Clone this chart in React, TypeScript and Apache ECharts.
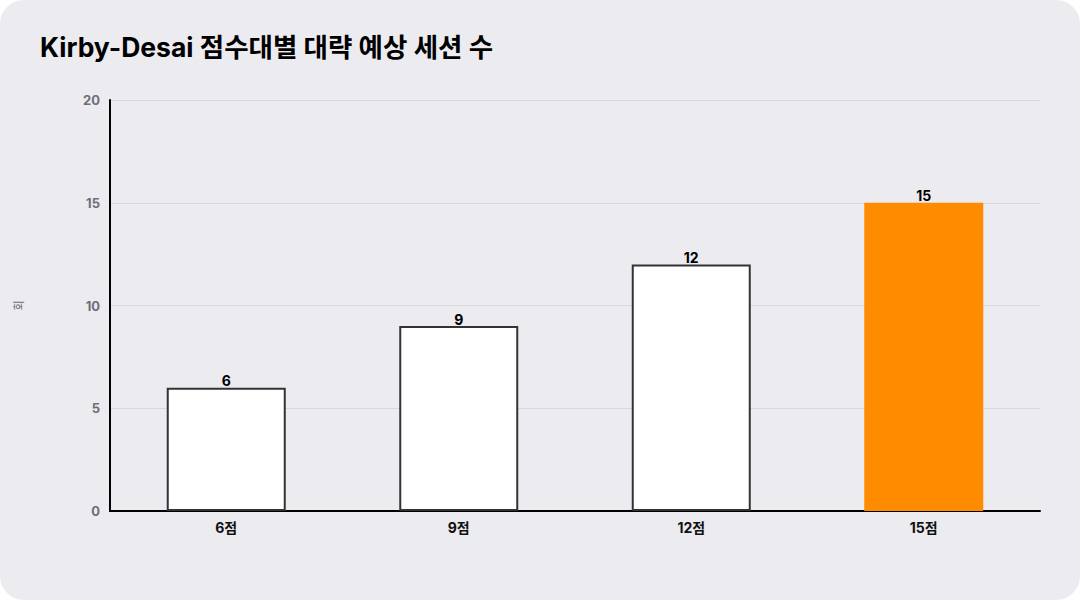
import React, { useEffect, useRef } from "react";
import * as echarts from "echarts";

const categories = ["6점", "9점", "12점", "15점"];
const sessions = [6, 9, 12, 15];
const highlightIndex = 3;
const yTicks = [0, 5, 10, 15, 20];
const titleText = "Kirby-Desai 점수대별 대략 예상 세션 수";
const yAxisName = "회";

const FONT = "Inter, 'Noto Sans CJK KR', sans-serif";

export default function App() {
  const ref = useRef<HTMLDivElement>(null);
  useEffect(() => {
    document.body.style.margin = "0";
    const chart = echarts.init(ref.current!, null, { renderer: "svg" });
    chart.setOption({
      animation: false,
      backgroundColor: "transparent",
      textStyle: { fontFamily: FONT },
      title: {
        text: titleText,
        left: 35,
        top: 29,
        textStyle: { fontFamily: FONT, fontSize: 26.5, fontWeight: "bold", color: "#000" },
      },
      grid: { left: 110, right: 40, top: 100, bottom: 89 },
      xAxis: {
        type: "category",
        data: categories,
        axisLine: { lineStyle: { color: "#000", width: 2 } },
        axisTick: { show: false },
        axisLabel: { color: "#111", fontWeight: "bold", fontSize: 14, margin: 9, fontFamily: FONT },
      },
      yAxis: {
        type: "value",
        min: yTicks[0],
        max: yTicks[yTicks.length - 1],
        interval: 5,
        name: yAxisName,
        nameLocation: "middle",
        nameGap: 86,
        nameRotate: 90,
        nameTextStyle: { color: "#6e6e78", fontSize: 11, fontFamily: FONT },
        axisLine: { show: true, lineStyle: { color: "#000", width: 2 } },
        axisTick: { show: false },
        splitLine: { lineStyle: { color: "#d8d7de", width: 1 } },
        axisLabel: { color: "#6e6e78", fontWeight: "bold", fontSize: 13, margin: 10, fontFamily: FONT },
      },
      series: [
        {
          type: "bar",
          barWidth: 119,
          data: sessions.map((v, i) => ({
            value: v,
            itemStyle:
              i === highlightIndex
                ? { color: "#FF8C00", borderColor: "#FF8C00", borderWidth: 0 }
                : { color: "#ffffff", borderColor: "#333333", borderWidth: 2 },
          })),
          label: {
            show: true,
            position: "top",
            distance: 0,
            color: "#000",
            fontWeight: "bold",
            fontSize: 14,
            fontFamily: FONT,
          },
        },
      ],
    });
    return () => chart.dispose();
  }, []);
  return (
    <div style={{ width: 1080, height: 600, background: "#ffffff" }}>
      <div
        style={{
          width: 1080,
          height: 600,
          background: "#ECEBF0",
          borderRadius: 24,
          overflow: "hidden",
        }}
      >
        <div ref={ref} style={{ width: 1080, height: 600 }} />
      </div>
    </div>
  );
}
